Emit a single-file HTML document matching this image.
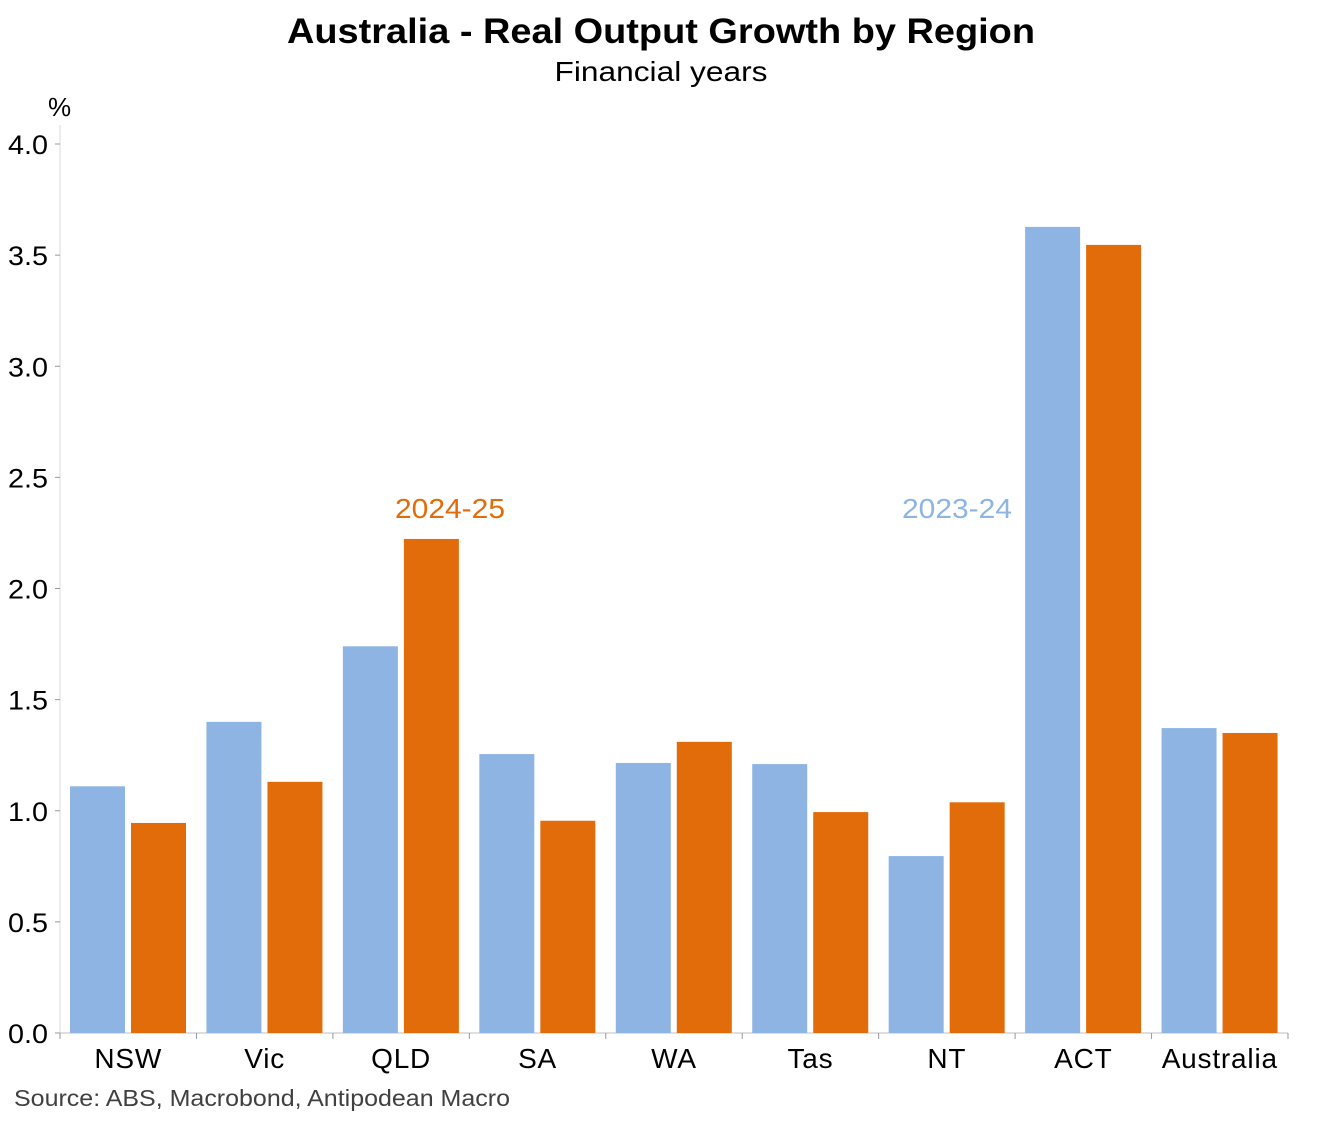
<!DOCTYPE html>
<html><head><meta charset="utf-8"><style>
html,body{margin:0;padding:0;background:#fff;}
svg{display:block;font-family:"Liberation Sans",Arial,sans-serif;}
</style></head><body>
<svg id="chart" width="1323" height="1122" viewBox="0 0 1323 1122">
<text x="661" y="43" text-anchor="middle" font-size="35" font-weight="bold" fill="#000" textLength="748" lengthAdjust="spacingAndGlyphs">Australia - Real Output Growth by Region</text>
<text x="661" y="81" text-anchor="middle" font-size="28" fill="#000" textLength="213" lengthAdjust="spacingAndGlyphs">Financial years</text>
<text x="48" y="116" font-size="26" fill="#000">%</text>
<g id="axes"></g>
<g id="bars"></g>
<text x="450" y="518" text-anchor="middle" font-size="28" fill="#E36C0A" textLength="110" lengthAdjust="spacingAndGlyphs">2024-25</text>
<text x="1012" y="518" text-anchor="end" font-size="28" fill="#8EB4E3" textLength="110" lengthAdjust="spacingAndGlyphs">2023-24</text>
<text x="14" y="1106" font-size="23" fill="#404040" textLength="496" lengthAdjust="spacingAndGlyphs">Source: ABS, Macrobond, Antipodean Macro</text>
</svg>
<script>
const categories=["NSW","Vic","QLD","SA","WA","Tas","NT","ACT","Australia"];
const series2324=[1.11,1.40,1.74,1.255,1.215,1.21,0.796,3.627,1.372];
const series2425=[0.945,1.13,2.223,0.955,1.31,0.994,1.038,3.546,1.35];
const yTicks=["0.0","0.5","1.0","1.5","2.0","2.5","3.0","3.5","4.0"];
const NS="http://www.w3.org/2000/svg";
const x0=60,x1=1288,y0=1033,yTop=144,yMax=4;
const bw=(x1-x0)/categories.length;
function y(v){return y0-(v/yMax)*(y0-yTop);}
function mk(t,a,p){const e=document.createElementNS(NS,t);for(const k in a)e.setAttribute(k,a[k]);p.appendChild(e);return e;}
const ax=document.getElementById('axes'),bars=document.getElementById('bars');
const yl=mk('line',{x1:x0,y1:125,x2:x0,y2:y0,stroke:'#d9d9d9','stroke-width':1},ax);


yTicks.forEach(t=>{const v=parseFloat(t),py=y(v);
 mk('line',{x1:x0-5,y1:py,x2:x0,y2:py,stroke:'#999'},ax);
 const tx=mk('text',{x:48,y:py+10,'text-anchor':'end','font-size':27,fill:'#000',textLength:40,lengthAdjust:'spacingAndGlyphs'},ax);tx.textContent=t;
 
 });
const xl=mk('line',{x1:x0,y1:y0,x2:x1,y2:y0,stroke:'#bfbfbf','stroke-width':1},ax);


for(let i=0;i<=categories.length;i++){mk('line',{x1:x0+i*bw,y1:y0,x2:x0+i*bw,y2:y0+6,stroke:'#999'},ax);}
categories.forEach((c,i)=>{const gx=x0+i*bw;
 const b1=mk('rect',{x:gx+10,y:y(series2324[i]),width:55,height:y0-y(series2324[i]),fill:'#8EB4E3'},bars);
 
 
 const b2=mk('rect',{x:gx+71,y:y(series2425[i]),width:55,height:y0-y(series2425[i]),fill:'#E36C0A'},bars);
 
 
 const t=mk('text',{x:gx+bw/2,y:1068,'text-anchor':'middle','font-size':28,'letter-spacing':'0.8',fill:'#000'},ax);t.textContent=c;
 
 });
</script>
</body></html>
